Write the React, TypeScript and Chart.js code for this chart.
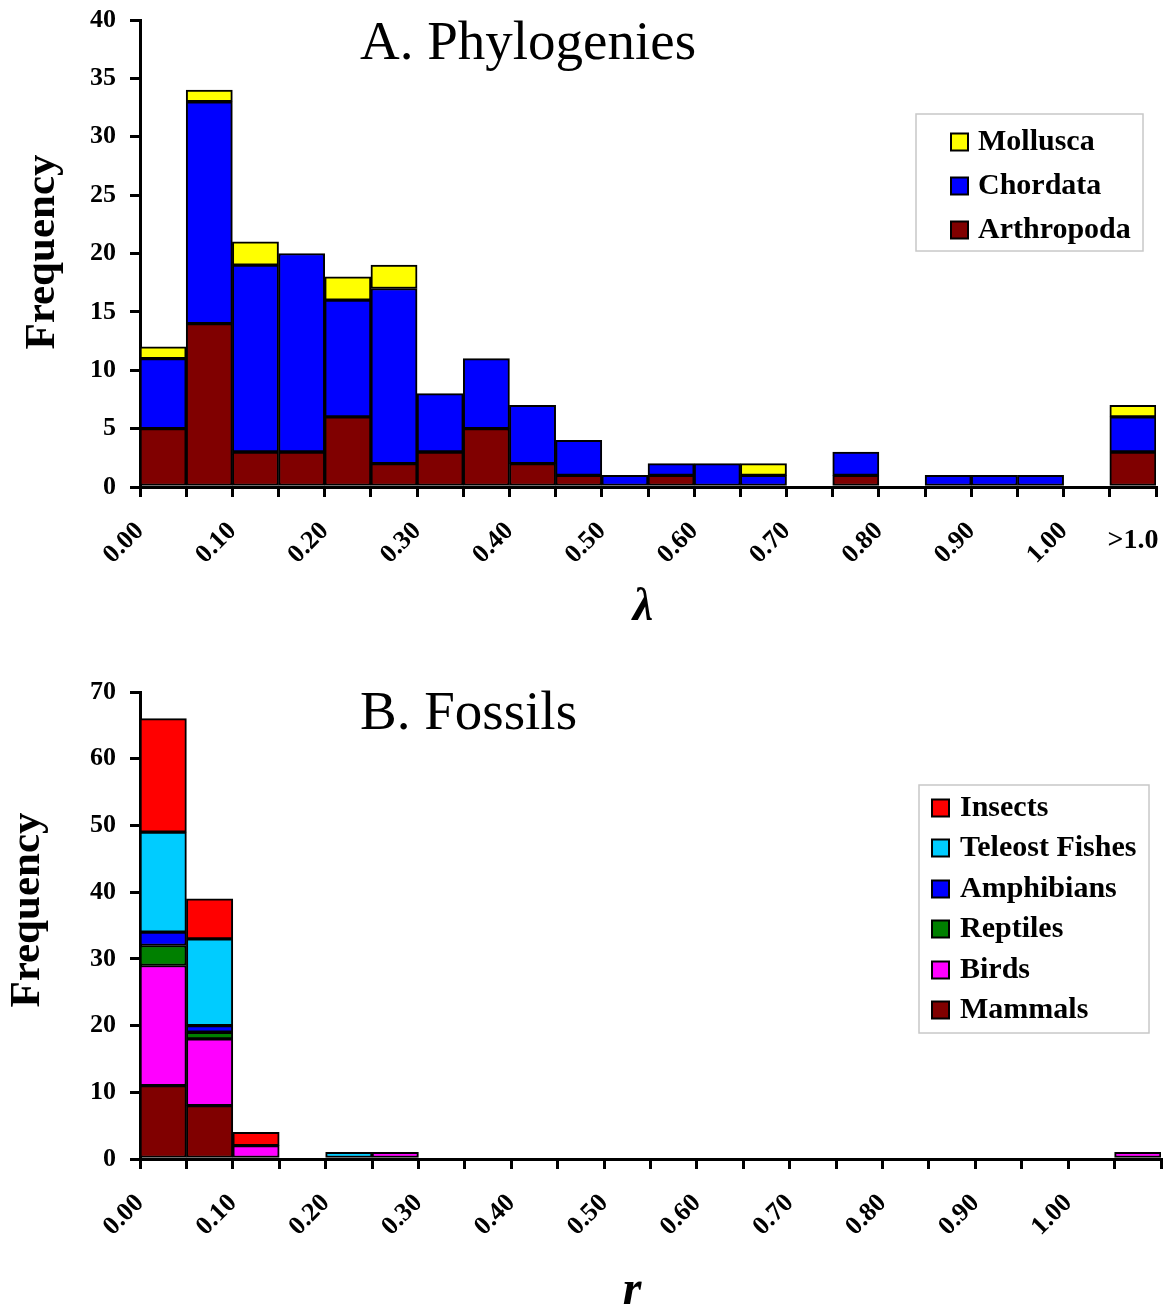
import React, { useEffect, useRef } from 'react';
import { Chart, registerables } from 'chart.js';

Chart.register(...registerables);

const FONT = "'Liberation Serif', 'Times New Roman', serif";

// Bin edges shared by both histograms (x axis: lambda / r)
const binEdges = [0.0, 0.05, 0.1, 0.15, 0.2, 0.25, 0.3, 0.35, 0.4, 0.45, 0.5, 0.55, 0.6, 0.65, 0.7, 0.75, 0.8, 0.85, 0.9, 0.95, 1.0, 1.05, 1.1];

// Tick labels at the bin edges
const edgeLabelsA = ['0.00', '', '0.10', '', '0.20', '', '0.30', '', '0.40', '', '0.50', '', '0.60', '', '0.70', '', '0.80', '', '0.90', '', '1.00', '', ''];
const edgeLabelsB = ['0.00', '', '0.10', '', '0.20', '', '0.30', '', '0.40', '', '0.50', '', '0.60', '', '0.70', '', '0.80', '', '0.90', '', '1.00', '', ''];
const lastBinLabelA = '>1.0';

// A. Phylogenies (stacked bottom to top)
const arthropoda = [5, 14, 3, 3, 6, 2, 3, 5, 2, 1, 0, 1, 0, 0, 0, 1, 0, 0, 0, 0, 0, 3];
const chordata = [6, 19, 16, 17, 10, 15, 5, 6, 5, 3, 1, 1, 2, 1, 0, 2, 0, 1, 1, 1, 0, 3];
const mollusca = [1, 1, 2, 0, 2, 2, 0, 0, 0, 0, 0, 0, 0, 1, 0, 0, 0, 0, 0, 0, 0, 1];

// B. Fossils (stacked bottom to top)
const mammals = [11, 8, 0, 0, 0, 0, 0, 0, 0, 0, 0, 0, 0, 0, 0, 0, 0, 0, 0, 0, 0, 0];
const birds = [18, 10, 2, 0, 0, 1, 0, 0, 0, 0, 0, 0, 0, 0, 0, 0, 0, 0, 0, 0, 0, 1];
const reptiles = [3, 1, 0, 0, 0, 0, 0, 0, 0, 0, 0, 0, 0, 0, 0, 0, 0, 0, 0, 0, 0, 0];
const amphibians = [2, 1, 0, 0, 0, 0, 0, 0, 0, 0, 0, 0, 0, 0, 0, 0, 0, 0, 0, 0, 0, 0];
const teleostFishes = [15, 13, 0, 0, 1, 0, 0, 0, 0, 0, 0, 0, 0, 0, 0, 0, 0, 0, 0, 0, 0, 0];
const insects = [17, 6, 2, 0, 0, 0, 0, 0, 0, 0, 0, 0, 0, 0, 0, 0, 0, 0, 0, 0, 0, 0];

type Series = { label: string; values: number[]; color: string };

type LegendSpec = {
  x: number; y: number; w: number; h: number;
  rowY: number[]; markerX: number; marker: number; textX: number; fontSize: number;
};

type PanelProps = {
  top: number;
  height: number;
  padTop: number;
  padRight: number;
  plotBottom: number;
  yMax: number;
  yStep: number;
  series: Series[];
  edgeLabels: string[];
  title: string; titleX: number; titleY: number;
  yTitleX: number; yTitleY: number;
  xTitle: string; xTitleX: number; xTitleY: number; xTitleSize: number;
  legend: LegendSpec;
  extraLabels?: { text: string; bin: number; y: number }[];
};

function Panel(p: PanelProps) {
  const ref = useRef<HTMLCanvasElement>(null);

  useEffect(() => {
    const canvas = ref.current;
    if (!canvas) return;
    const centers = binEdges.slice(0, -1).map((e, i) => (e + binEdges[i + 1]) / 2);

    const decor = {
      id: 'decor',
      afterDraw(chart: any) {
        const ctx = chart.ctx as CanvasRenderingContext2D;
        ctx.save();
        ctx.fillStyle = '#000';
        // panel title
        ctx.font = `55px ${FONT}`;
        ctx.textAlign = 'left';
        ctx.textBaseline = 'alphabetic';
        ctx.fillText(p.title, p.titleX, p.titleY);
        // y axis title
        ctx.save();
        ctx.translate(p.yTitleX, p.yTitleY);
        ctx.rotate(-Math.PI / 2);
        ctx.font = `bold 43px ${FONT}`;
        ctx.textAlign = 'center';
        ctx.textBaseline = 'middle';
        ctx.fillText('Frequency', 0, 0);
        ctx.restore();
        // x axis title
        ctx.font = `italic bold ${p.xTitleSize}px ${FONT}`;
        ctx.textAlign = 'center';
        ctx.textBaseline = 'alphabetic';
        ctx.fillText(p.xTitle, p.xTitleX, p.xTitleY);
        // extra horizontal tick labels
        for (const e of p.extraLabels || []) {
          ctx.font = `bold 28px ${FONT}`;
          ctx.textAlign = 'center';
          ctx.textBaseline = 'middle';
          ctx.fillText(e.text, chart.scales.x.getPixelForValue(centers[e.bin]), e.y);
        }
        // legend
        const L = p.legend;
        ctx.fillStyle = '#fff';
        ctx.fillRect(L.x, L.y, L.w, L.h);
        ctx.strokeStyle = '#c8c8c8';
        ctx.lineWidth = 1.5;
        ctx.strokeRect(L.x, L.y, L.w, L.h);
        const ds = chart.data.datasets.slice().reverse();
        ds.forEach((d: any, i: number) => {
          const cy = L.rowY[i];
          ctx.fillStyle = d.backgroundColor;
          ctx.fillRect(L.markerX, cy - L.marker / 2, L.marker, L.marker);
          ctx.strokeStyle = '#000';
          ctx.lineWidth = 2;
          ctx.strokeRect(L.markerX, cy - L.marker / 2, L.marker, L.marker);
          ctx.fillStyle = '#000';
          ctx.font = `bold ${L.fontSize}px ${FONT}`;
          ctx.textAlign = 'left';
          ctx.textBaseline = 'middle';
          ctx.fillText(d.label, L.textX, cy);
        });
        ctx.restore();
      },
    };

    const tickFont = { family: FONT, size: 26, weight: 'bold' as const };

    const chart = new Chart(canvas, {
      type: 'bar',
      data: {
        datasets: p.series.map((s) => ({
          label: s.label,
          data: centers.map((c, i) => ({ x: c, y: s.values[i] })),
          backgroundColor: s.color,
          borderColor: '#000',
          borderWidth: 2,
          borderSkipped: false,
          barPercentage: 1,
          categoryPercentage: 1,
        })),
      },
      options: {
        responsive: false,
        animation: false,
        events: [],
        layout: { padding: { top: p.padTop, right: p.padRight, left: 0, bottom: 0 } },
        plugins: {
          legend: { display: false },
          tooltip: { enabled: false },
          title: { display: false },
        },
        scales: {
          x: {
            type: 'linear',
            stacked: true,
            offset: false,
            min: binEdges[0],
            max: binEdges[binEdges.length - 1],
            afterBuildTicks: (s: any) => {
              s.ticks = binEdges.map((v) => ({ value: v }));
            },
            ticks: {
              autoSkip: false,
              minRotation: 45,
              maxRotation: 45,
              padding: 19,
              color: '#000',
              font: tickFont,
              callback: (_v: any, i: number) => p.edgeLabels[i],
            },
            grid: { offset: false, drawOnChartArea: false, drawTicks: true, tickLength: 10, color: '#000', lineWidth: 3 },
            border: { display: true, color: '#000', width: 3 },
            afterFit: (s: any) => {
              s.height = p.height - p.plotBottom;
              s.paddingLeft = 0;
              s.paddingRight = 0;
            },
          },
          y: {
            type: 'linear',
            stacked: true,
            min: 0,
            max: p.yMax,
            ticks: { stepSize: p.yStep, padding: 14, color: '#000', font: tickFont },
            grid: { drawOnChartArea: false, drawTicks: true, tickLength: 10, color: '#000', lineWidth: 3 },
            border: { display: true, color: '#000', width: 3 },
            afterFit: (s: any) => {
              s.width = 140;
              s.paddingTop = 0;
              s.paddingBottom = 0;
            },
          },
        },
      } as any,
      plugins: [decor],
    });

    return () => chart.destroy();
  }, []);

  return (
    <canvas
      ref={ref}
      width={1165}
      height={p.height}
      style={{ position: 'absolute', left: 0, top: p.top, display: 'block' }}
    />
  );
}

export default function App() {
  const seriesA: Series[] = [
    { label: 'Arthropoda', values: arthropoda, color: '#800000' },
    { label: 'Chordata', values: chordata, color: '#0000FF' },
    { label: 'Mollusca', values: mollusca, color: '#FFFF00' },
  ];
  const seriesB: Series[] = [
    { label: 'Mammals', values: mammals, color: '#800000' },
    { label: 'Birds', values: birds, color: '#FF00FF' },
    { label: 'Reptiles', values: reptiles, color: '#008000' },
    { label: 'Amphibians', values: amphibians, color: '#0000FF' },
    { label: 'Teleost Fishes', values: teleostFishes, color: '#00CCFF' },
    { label: 'Insects', values: insects, color: '#FF0000' },
  ];

  return (
    <div style={{ position: 'absolute', left: 0, top: 0, width: 1165, height: 1308, background: '#fff', overflow: 'hidden' }}>
      <Panel
        top={0}
        height={640}
        padTop={20}
        padRight={9}
        plotBottom={487}
        yMax={40}
        yStep={5}
        series={seriesA}
        edgeLabels={edgeLabelsA}
        title="A. Phylogenies"
        titleX={360}
        titleY={59}
        yTitleX={43}
        yTitleY={252}
        xTitle="λ"
        xTitleX={643}
        xTitleY={620}
        xTitleSize={46}
        legend={{ x: 916, y: 114, w: 227, h: 137, rowY: [142, 186, 230], markerX: 951, marker: 17, textX: 978, fontSize: 30 }}
        extraLabels={[{ text: lastBinLabelA, bin: 21, y: 541 }]}
      />
      <Panel
        top={640}
        height={668}
        padTop={52}
        padRight={4}
        plotBottom={519}
        yMax={70}
        yStep={10}
        series={seriesB}
        edgeLabels={edgeLabelsB}
        title="B. Fossils"
        titleX={360}
        titleY={89}
        yTitleX={28}
        yTitleY={270}
        xTitle="r"
        xTitleX={632}
        xTitleY={664}
        xTitleSize={48}
        legend={{ x: 919, y: 145, w: 230, h: 248, rowY: [168, 208, 249, 289, 330, 370], markerX: 932, marker: 17, textX: 960, fontSize: 30 }}
      />
    </div>
  );
}
